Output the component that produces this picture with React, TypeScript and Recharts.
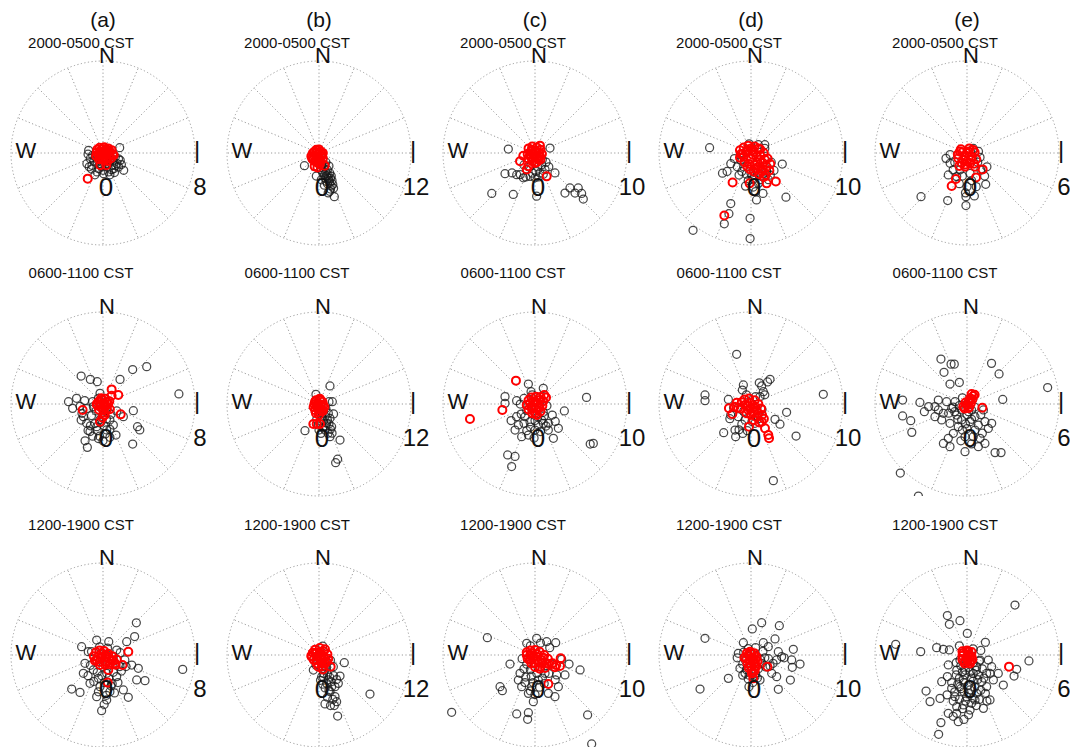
import React from "react";
import { ScatterChart, Scatter, XAxis, YAxis, ReferenceLine, ReferenceDot } from "recharts";

// layout of the 5 x 3 grid of polar panels
const COL_X = [103, 319, 535, 751, 967];
const ROW_Y = [153, 404, 655];
const PLOT_R = 92;

const COLUMN_TAGS = ["(a)", "(b)", "(c)", "(d)", "(e)"];
const PERIODS = ["2000-0500 CST", "0600-1100 CST", "1200-1900 CST"];
const MAX_SPEED = [8, 12, 10, 10, 6];
const SPOKE_DEG = [0, 22.5, 45, 67.5, 90, 112.5, 135, 157.5, 180, 202.5, 225, 247.5, 270, 292.5, 315, 337.5];

// points are [east, north] components
const a1Black = [[-1.25,0.23],[1.45,0.46],[1.8,-1.5],[-1.4,-0.93],[-0.96,-1.07],[-0.52,-1.65],[0.93,-1.36],[1.22,-0.93],[1.5,-0.64],[0.35,-1.22],[-0.23,-0.93],[-0.67,-0.35],[0.64,-0.64],[1.07,-0.35],[0.06,-1.8],[-0.38,-1.36],[0.49,-1.65],[-1.1,-0.49],[1.36,-1.22],[0.78,-1.07],[0.2,-0.78],[-0.9,-0.2],[0.1,-0.4],
  [-1.0,-1.4],[-0.7,-1.9],[0.0,-1.5],[0.6,-1.9],[1.0,-1.7],[1.6,-1.0],[-1.2,-1.2],[-0.5,-0.8],[0.4,-0.95],[1.1,-1.1],[-0.8,-0.7],[0.9,-0.6],[-0.1,-1.2],[1.35,-0.5],[-1.3,-0.1],[0.75,-1.45]];
const a1Red = [[-1.33,-2.23],[0.93,-0.2],[-0.23,-1.07],[0.29,-1.07],[0,0],[0.2,0.2],[0.4,0.1],[-0.2,0.1],[0.1,-0.3],[0.5,-0.3],[-0.3,-0.3],[0.3,-0.5],[0.6,0.1],[-0.1,0.35],[0.2,-0.6],[-0.4,-0.1],
  [-0.5,0.3],[-0.3,0.45],[0.1,0.5],[0.45,0.4],[0.75,0.25],[0.85,-0.1],[0.7,-0.45],[0.4,-0.7],[0,-0.6],[-0.35,-0.55],[-0.6,-0.25],[-0.55,0.05],[0.05,0.1],[0.3,-0.15],[-0.15,-0.15],[0.55,-0.1],[-0.1,-0.45],[0.25,0.35]];

const b1Black = [[-1.9,-1.65],[-0.35,-3.0],[0.3,-2.2],[0.74,-2.8],[1.2,-3.3],[1.4,-3.9],[1.6,-4.3],[1.2,-5.2],[2.0,-5.7],[0.96,-3.7],[0.5,-0.9],[0.74,-1.74],[1.4,-2.6],[1.8,-4.1],[0.3,-3.5],[1.1,-2.2],[1.6,-3.0],[0.9,-1.2],[1.3,-1.7],
  [0.4,-1.4],[0.6,-2.0],[0.9,-2.5],[1.0,-3.0],[1.3,-3.6],[1.5,-3.3],[0.8,-3.3],[1.1,-4.0],[1.5,-4.7],[1.7,-3.6],[0.5,-2.6],[1.2,-2.9],[0.2,-1.9],[1.9,-4.6],[1.4,-5.0],[0.7,-4.2]];
const b1Red = [[-0.57,0.2],[-0.13,-0.2],[0.3,-0.43],[-0.57,-1.74],[0.74,-1.65],[-0.78,-0.87],[0.1,-0.87],[-0.35,0.43],[0.5,0],[-1.0,-0.43],[-0.13,-1.3],
  [-0.8,0.0],[-0.6,-0.4],[-0.3,0.1],[0.2,0.2],[0.4,-0.2],[-0.1,-0.6],[-0.5,-1.1],[0.2,-1.1],[0.5,-0.7],[-0.9,-0.7],[0.0,0.45],[-0.3,-0.9],[0.1,-1.5],[-0.2,-1.9]];

const c1Black = [[-2.9,0.43],[1.63,0.54],[-3.26,-2.25],[-2.5,-2.17],[-1.99,-2.36],[-1.27,-2.7],[-0.54,-2.54],[0,-2.7],[0.18,-4.7],[-2.36,-4.5],[-4.7,-4.4],[3.26,-4.35],[3.8,-3.8],[4.35,-4.35],[4.7,-3.8],[5.07,-4.4],[5.25,-5.0],[2.17,-2.17],[1.09,-1.8],[-0.9,-1.8],[-1.6,-2.35],[0.72,-1.27],[0.54,-2.17],[0.3,-1.5],
  [-0.6,-1.5],[0.1,-2.0],[0.9,-2.3],[-1.0,-2.6],[1.5,-1.5],[0.8,-0.7],[-1.2,-1.3],[0.4,-2.6],[-0.3,-2.2],[1.2,-1.0]];
const c1Red = [[-1.63,-0.9],[-1.27,-0.29],[-0.9,-1.8],[1.27,-2.54],[0.54,0.8],[-0.72,-1.45],[-0.36,0.36],[0.18,0.18],[0.54,-0.36],[-0.18,-0.54],[-0.54,-0.18],[0.36,-0.72],[0,-1.09],
  [-0.7,0.5],[-0.3,0.7],[0.2,0.6],[0.6,0.35],[0.75,-0.1],[0.6,-0.7],[0.2,-1.0],[-0.3,-0.9],[-0.75,-0.6],[-0.8,-0.1],[-0.2,-0.1],[0.2,-0.4],[0.0,0.3],[-0.45,0.15],[0.4,0.0],[-0.4,-0.5]];

const d1Black = [[-4.5,0.58],[-3.1,-2.2],[-2.2,-1.16],[-1.1,-0.8],[-2.2,-5.5],[-2.4,-6.6],[-2.9,-7.7],[-6.3,-8.4],[-0.1,-7.1],[-0.1,-9.3],[0.6,-5.1],[1.3,-4.4],[3.8,-4.8],[3.4,-1.2],[1.5,0.5],[0.25,-3.7],[1.0,-2.9],[0,-2.2],[0.7,-2.2],[-0.8,-1.5],[-1.5,-1.5],[1.7,-1.9],[2.1,-2.4],
  [-0.5,-2.3],[0.3,-2.8],[0.8,-3.3],[-1.0,-2.0],[1.9,-2.9],[-0.3,-3.0],[2.5,-1.9],[-1.8,-0.6],[0.5,-4.2],[-0.6,-3.6],[1.1,-2.5],[0.1,-2.5],[-1.3,-2.4],[2.2,-1.0],[1.5,0.9],[-0.2,1.0],[0.8,0.9],[-2.6,-2.0]];
const d1Red = [[-2.0,-3.2],[-2.9,-6.8],[-0.15,-3.3],[1.7,-3.3],[2.7,-3.1],[-1.1,-0.1],[-0.4,-1.5],[-0.4,0.3],[0.3,0.1],[1.0,-0.25],[0,-0.6],[0.7,-1.0],[1.3,-1.1],[1.7,-1.5],[0.5,-1.7],[1.2,-2.0],[-0.8,-0.4],[1.6,-2.4],[0,0.5],[0.8,0.5],
  [-1.2,0.3],[-0.8,0.6],[-0.3,0.8],[0.4,0.7],[1.0,0.4],[1.4,0],[1.8,-0.6],[2.1,-1.2],[2.0,-1.9],[1.4,-2.6],[0.9,-2.3],[0.3,-2.0],[-0.2,-1.2],[-0.7,-1.0],[-1.2,-0.5],[0.6,-0.4],[0.2,-0.2],[1.0,-0.7],[1.5,-0.7],[0.8,-1.5],[-0.5,0.1],[0.1,0.3],[1.3,-1.8],[-0.1,-1.8],[0.4,-1.3],[-0.9,-0.1]];

const e1Black = [[-1.37,-0.35],[-1.22,-1.43],[-3.0,-2.85],[-1.26,-3.1],[-0.07,-2.85],[-0.07,-3.43],[0.48,-2.8],[1.22,-2.04],[0.85,-0.28],[1.15,-1.5],[0.41,0.3],[-0.46,-1.1],[0.2,-1.33],[0,-2.2],[-0.67,-1.54],[-1.1,-0.67],
  [-0.8,-0.6],[-0.9,-1.1],[0.7,-0.6],[0.9,-1.1],[-0.3,-1.5],[0.3,-1.8],[0.6,-2.2],[-0.5,-2.0],[1.3,-0.9],[-1.1,-0.1],[0.75,0.1],[-0.1,-2.6]];
const e1Red = [[-1.0,-2.15],[-0.72,-1.7],[1.02,-1.07],[0.59,-1.59],[-0.5,-0.85],[0.41,0.2],[-0.46,0.09],[0,0],[0.3,-0.24],[-0.24,-0.46],[0.2,-0.67],[-0.57,-0.35],[-0.13,-0.89],[0.52,-0.89],
  [-0.4,0.25],[0.15,0.3],[0.5,0.05],[0.6,-0.4],[0.45,-0.7],[0.0,-0.55],[-0.35,-0.65],[-0.6,-0.1],[-0.15,-0.2],[0.25,-0.45],[0.1,0.1],[-0.3,0.05],[-0.1,-0.75]];

const a2Black = [[-1.9,2.43],[-1.1,2.14],[-0.5,1.94],[2.58,3.0],[3.8,3.25],[6.6,0.87],[1.48,2.14],[-3.0,0.2],[-2.3,0.5],[-2.64,-0.38],[2.64,-0.58],[1.77,-1.1],[3.0,-1.97],[3.2,-2.26],[2.58,-3.48],[1.13,-2.7],[-1.36,-3.77],[-1.56,-3.2],[-0.4,-3.0],[-1.13,-2.4],[-1.7,-1.1],[-1.42,-1.68],[-0.55,-1.97],[0.32,-2.26],[0.6,-1.39],[-0.26,0.93],[-0.84,-0.23],[-1.83,-0.81],[0,-1.1],[0.9,-1.83],[-0.2,-1.6],[0.2,-0.6],
  [-0.6,-0.6],[-1.0,-1.0],[-0.3,-1.4],[0.3,-1.3],[-0.7,-1.7],[0.1,-1.9],[-1.1,-1.9],[-0.5,-2.3],[0.2,-2.6],[-0.9,-2.8],[0.0,-3.2],[0.6,-2.9],[-1.4,-0.4],[-0.9,0.2],[-0.4,0.5],[-2.0,-0.2],[-1.6,0.3],[0.7,-0.9],[1.2,-0.6],[-0.3,-2.8],[0.6,-2.2],[-1.9,-1.4],[-1.3,-2.3],[-0.1,-0.3]];
const a2Red = [[-1.77,-0.52],[0.75,1.27],[1.33,0.78],[0.75,0.72],[1.54,-0.9],[-0.26,-1.54],[-0.55,0],[-0.12,0.35],[0.32,0.2],[0.17,-0.23],[-0.26,-0.23],[0.6,-0.46],[0.09,-0.75],
  [-0.4,0.2],[-0.15,0.5],[0.2,0.45],[0.45,0.0],[0.35,-0.45],[0.0,-0.5],[-0.35,-0.5],[-0.5,-0.1],[0.05,0.05],[0.25,-0.15],[-0.2,0.0],[0.55,0.25],[0.15,-0.95],[-0.05,-1.2]];

const b2Black = [[1.43,2.35],[-0.4,1.26],[1.74,0.3],[1.43,-1.87],[1.65,-2.96],[-1.83,-3.48],[0.26,-3.83],[1.43,-4.26],[2.74,-4.7],[2.43,-7.2],[2.17,-7.65],[1.0,-2.52],[-0.09,-2.74],[0.78,-3.4],[1.22,-1.22],[0.35,-1.65],[0.6,-0.9],
  [0.4,-1.2],[0.8,-1.6],[1.1,-2.1],[0.6,-2.2],[1.3,-2.6],[0.2,-2.2],[0.9,-2.9],[1.5,-3.3],[0.5,-3.1],[1.2,-3.8],[-0.3,-2.0],[0.9,-0.6],[1.3,0.3],[1.9,-1.3],[1.7,-3.8],[0.0,-3.4]];
const b2Red = [[-0.74,-2.6],[-0.3,-2.6],[0.13,-2.6],[-0.52,0.3],[0.13,0.52],[0.57,-0.13],[-0.3,-0.35],[0.35,-0.78],[-0.09,-0.57],
  [-0.6,0.0],[-0.4,0.5],[0.1,0.7],[0.45,0.3],[0.7,-0.4],[0.5,-0.9],[0.0,-1.0],[-0.5,-0.8],[-0.7,-0.4],[-0.1,0.1],[0.25,-0.3],[-0.3,-0.1],[0.0,-1.4],[-0.4,-1.2]];

const c2Black = [[-0.72,2.17],[-0.43,1.34],[0.9,1.7],[-3.26,0.8],[-3.26,0.07],[-2.0,0.36],[3.19,-0.76],[5.6,0.72],[6.0,-4.35],[6.34,-4.28],[-2.97,-5.54],[-2.17,-5.7],[-2.54,-6.8],[-1.8,-2.28],[-1.45,-3.55],[-0.72,-3.37],[0,-2.83],[1.45,-2.83],[2.0,-3.73],[1.88,-1.2],[1.45,-2.1],[-1.09,-1.38],[-2.0,-1.38],[-0.54,-1.92],[0.72,-1.74],[0.36,-2.28],[-2.17,-2.83],[2.54,-2.64],[-0.3,-1.0],[0.9,-0.9],
  [-0.9,-0.7],[-1.5,-1.1],[-0.5,-2.5],[0.3,-1.4],[1.0,-1.3],[1.2,-2.4],[-1.2,-2.1],[-0.9,-2.9],[0.6,-3.0],[-1.6,0.0],[-1.2,0.6],[1.3,-0.2],[-0.3,1.0],[2.2,-1.9],[-2.6,-1.8],[0.0,-1.8],[0.9,-2.1],[-0.1,-3.7]];
const c2Red = [[-2.07,2.54],[-3.55,-0.65],[-7.07,-1.63],[1.0,0.98],[-0.54,0.07],[0,0.25],[0.54,0.43],[-0.36,-0.47],[0.36,-0.29],[0,-1.0],
  [-0.7,0.4],[-0.4,0.7],[0.1,0.8],[0.6,0.75],[0.9,0.3],[0.8,-0.2],[0.6,-0.8],[0.2,-1.2],[-0.3,-1.0],[-0.7,-0.6],[-0.9,-0.1],[-0.2,0.3],[0.3,0.1],[0.1,-0.5],[-0.4,-0.3],[0.5,-0.4],[1.2,0.7]];

const d2Black = [[-1.56,5.4],[-5.0,0.98],[-5.0,0.36],[-0.83,2.07],[-0.94,1.52],[1.16,1.96],[2.07,2.68],[1.34,1.34],[0.98,0.8],[7.86,1.05],[3.87,-0.9],[3.15,-2.2],[2.61,-1.67],[4.9,-3.48],[2.43,-8.33],[-2.97,-3.12],[-1.74,-2.83],[-1.67,-3.55],[0.43,-2.1],[-0.65,-1.74],[-1.38,-1.38],[-2.46,0.5],
  [-0.8,-0.8],[-1.0,-2.2],[-0.4,-2.9],[0.1,-1.9],[0.8,-1.6],[1.2,-0.6],[0.5,0.8],[-0.5,1.0],[-1.9,-0.4],[-2.2,-1.2],[-1.3,-2.8],[-0.9,-3.2],[0.9,2.3],[1.8,2.4],[1.5,1.0],[-2.3,-1.6]];
const d2Red = [[-2.4,-0.47],[-2.03,-1.09],[-1.56,0.14],[-0.22,-2.46],[0.25,-1.74],[1.16,-1.92],[1.52,-2.64],[1.88,-3.37],[1.96,-3.73],[-0.65,-0.1],[-0.1,0.14],[0.43,-0.29],[-0.29,-0.65],[0.25,-0.83],[0.8,-1.0],
  [-1.0,0.2],[-0.7,0.5],[-0.2,0.6],[0.4,0.4],[0.8,0.0],[1.1,-0.5],[1.2,-1.2],[0.6,-1.4],[0.0,-1.2],[-0.5,-1.0],[-1.1,-0.5],[-0.4,-0.2],[0.3,-0.4],[0.6,-0.7],[-0.1,-0.5],[1.4,-1.6],[-1.4,-0.4],[-1.8,-0.3],[0.9,-2.0]];

const e2Black = [[-1.7,2.93],[-1.04,2.6],[-0.83,2.6],[-1.5,2.07],[-1.11,1.3],[-0.5,1.41],[1.6,2.65],[2.09,1.96],[5.26,1.07],[2.33,0.3],[-4.2,0.26],[-4.2,-0.78],[-3.67,-1.09],[-3.6,-1.85],[-3.07,0.1],[-2.78,-0.5],[-2.5,-0.17],[-4.35,-4.5],[-3.17,-6.0],[-2.09,-0.17],[-1.87,-0.39],[-1.54,-0.61],[-1.33,0.15],[-1.0,-0.28],[-0.67,-0.72],[-0.35,-1.04],[0.2,-1.15],[0.52,-0.83],[0.74,-1.37],[1.17,-1.15],[1.39,-1.59],[1.61,-1.26],[-0.57,-1.48],[-0.89,-1.91],[-1.22,-2.24],[-1.54,-2.57],[-1.11,-2.78],[-0.13,-3.11],[0.74,-2.78],[1.17,-2.57],[1.83,-3.17],[2.22,-3.17],[-0.13,-2.13],[0.41,-2.13],[-0.35,-0.39],[-0.78,0.15],[1.07,-0.39],[-1.65,-1.04],[-2.09,-0.83],[-1.11,-1.26],[-1.87,0.26],[0.52,-1.7],[0.85,-2.24],[0,-0.7],[-0.3,-1.7],[0.3,-0.4],
  [-0.5,-0.1],[0.1,-0.5],[-0.1,-1.3],[0.5,-0.2],[0.9,-0.7],[-0.8,-0.5],[-0.6,-1.0],[0.3,-1.0],[0.0,-1.6],[-0.4,-2.4],[0.3,-2.6],[1.0,-1.9],[-0.9,-0.2],[-1.2,-0.6],[0.2,0.3],[-0.3,0.4]];
const e2Red = [[0.41,0.52],[0.2,0.37],[0,-0.07],[-0.24,-0.17],[1.0,-0.24],[0.09,-0.28],
  [0.1,0.15],[0.25,0.05],[-0.1,0.1],[0.35,0.3],[0.15,-0.2],[-0.15,-0.3],[0.5,0.6],[0.3,0.65]];

const a3Black = [[2.9,2.8],[2.75,1.6],[2.06,1.16],[0.5,1.16],[-0.55,1.3],[-1.86,0.72],[-1.28,0.29],[6.93,-1.25],[3.65,-2.23],[2.93,-2.17],[2.2,-3.68],[-0.12,-4.84],[-2.72,-2.96],[-2.0,-3.25],[-1.71,-1.59],[-1.13,-2.46],[-1.57,-0.72],[1.77,-3.04],[1.19,-1.88],[0.6,-3.19],[0.32,-3.91],[-0.55,-3.62],[-0.26,-2.75],[1.48,-1.0],[2.5,-0.87],[3.07,-1.16],[-0.84,-1.3],[0.9,-0.14],[1.9,-0.43],[0.32,-1.59],[-0.4,-2.03],[1.19,0.43],[0.8,-2.5],[0,-1.0],
  [-0.5,-1.5],[-0.1,-1.8],[0.5,-2.0],[0.9,-1.5],[-0.8,-2.3],[0.1,-2.4],[0.7,-2.7],[-0.4,-3.2],[0.3,-3.5],[1.3,-2.4],[1.6,-1.4],[-1.1,-0.9],[-1.0,0.3],[-0.3,0.7],[0.4,0.6],[1.5,0.2],[2.0,-1.0],[1.0,-3.3],[-1.3,-1.8],[0.1,-4.3]];
const a3Red = [[2.2,0.29],[1.7,-0.87],[0.46,-1.3],[0.41,-2.4],[-0.55,-0.43],[-0.12,0.14],[0.32,-0.14],[0.75,-0.43],[-0.26,-0.87],[0.17,-0.58],[1.04,-0.72],
  [-0.8,-0.1],[-0.6,0.25],[-0.3,0.4],[0.1,0.35],[0.45,0.1],[0.8,-0.1],[1.2,-0.4],[1.1,-0.85],[0.6,-0.8],[0.2,-0.85],[-0.3,-0.6],[-0.7,-0.5],[-0.1,-0.2],[0.5,-0.35],[0.2,0.0],[-0.45,-0.2],[0.9,-0.5]];

const b3Black = [[0.48,1.17],[3.3,-1.0],[2.74,-2.74],[6.65,-5.09],[0.78,-6.39],[2.43,-7.96],[2.3,-6.09],[2.09,-5.43],[1.65,-4.13],[1.22,-3.26],[0.35,-2.83],[0.78,-1.96],[1.87,-1.52],[-0.74,-1.96],[1.43,-4.78],[1.0,-3.7],[2.09,-4.13],[2.52,-3.7],[0.6,-2.4],[1.4,-2.9],
  [0.4,-1.5],[1.0,-1.6],[0.6,-2.9],[1.1,-2.5],[0.2,-3.3],[0.8,-4.3],[1.3,-4.6],[1.8,-5.8],[2.0,-6.6],[1.6,-3.5],[0.5,-3.8],[1.9,-2.7],[2.3,-3.2],[-0.4,-1.3],[1.1,-5.5],[1.5,-6.6],[0.9,-0.8],[1.5,-0.7]];
const b3Red = [[-0.96,-0.22],[0.78,0.74],[1.52,-1.52],[-0.52,0.22],[0.13,0.43],[0.57,-0.22],[-0.3,-0.65],[0.35,-1.09],[-0.09,-1.52],[1.0,-0.87],
  [-0.8,0.3],[-0.5,0.7],[0.1,0.9],[0.6,0.5],[1.1,0.1],[1.2,-0.5],[0.8,-1.1],[0.4,-1.5],[-0.3,-1.1],[-0.7,-0.6],[-1.0,-0.1],[-0.2,-0.2],[0.3,0.0],[0.2,-0.7],[-0.4,0.2],[0.7,-0.4],[0.5,-1.9]];

const c3Black = [[-5.18,1.88],[-2.72,-0.98],[-3.8,-3.44],[-3.55,-3.88],[-9.06,-6.23],[-1.99,-6.41],[-0.72,-6.27],[-0.8,-6.99],[5.72,-6.52],[6.16,-9.67],[4.9,-1.63],[3.7,-0.98],[2.9,-0.47],[3.26,-2.17],[2.36,-2.17],[2.17,-4.53],[1.45,-4.17],[-0.18,-5.07],[-0.72,-4.17],[-1.45,-3.44],[-1.81,-2.72],[-1.63,-1.99],[-0.9,1.27],[0.18,1.81],[1.27,1.45],[2.25,1.34],[1.09,-1.99],[0.36,-2.72],[-0.36,-3.44],[2.54,-3.44],[-0.5,-1.6],[0.6,-1.5],
  [-0.9,-1.0],[-1.2,-1.5],[-0.4,-2.3],[0.2,-2.0],[0.8,-2.5],[1.5,-2.0],[1.8,-1.0],[-0.2,-3.0],[0.5,-3.5],[1.0,-3.1],[-1.0,-2.4],[-0.5,-3.9],[-1.4,-0.4],[-0.5,1.0],[0.6,1.3],[1.6,0.8],[2.2,-2.7],[0.0,-4.3],[-1.1,-3.0]];
const c3Red = [[2.79,-0.36],[2.72,-1.2],[1.45,-3.15],[2.17,-1.34],[-0.9,0],[-0.36,0.18],[0.18,-0.18],[0.72,-0.54],[1.27,-0.9],[-0.54,-0.54],[0,-0.9],[0.54,-1.27],
  [-0.9,0.3],[-0.5,0.5],[0.0,0.55],[0.5,0.35],[1.0,0.0],[1.4,-0.4],[1.5,-1.0],[1.1,-1.4],[0.5,-1.5],[0.0,-1.3],[-0.4,-0.9],[-0.8,-0.4],[-0.2,-0.3],[0.3,-0.6],[0.8,-0.9],[0.9,-0.3],[0.2,0.1],[-0.5,0.0],[1.9,-0.9],[2.3,-1.1]];

const d3Black = [[1.16,3.51],[0.14,2.83],[3.08,3.19],[2.61,1.74],[-5.0,1.81],[-5.54,-3.7],[-2.46,-2.54],[-0.83,1.34],[1.34,1.34],[1.88,0.9],[2.97,0.36],[4.6,0.62],[4.42,-0.54],[5.33,-0.98],[4.49,-1.34],[4.28,-2.72],[2.97,-3.73],[2.79,-2.36],[2.07,-1.2],[-1.38,0.18],[-1.2,-1.45],[0.98,-2.72],[-0.22,-3.44],[0.43,-2.36],[-0.65,-1.99],[2.79,-0.54],[3.33,-0.18],[1.16,-0.9],[2.25,-1.99],[-0.3,-2.6],
  [-0.6,-0.6],[-0.9,-1.0],[-0.5,-1.6],[0.5,-2.0],[0.8,-1.5],[1.0,-0.5],[1.5,-0.3],[1.6,-1.3],[-0.2,-2.2],[0.2,-3.0],[0.7,-2.5],[-0.9,-2.2],[-0.3,0.7],[0.5,0.8],[1.9,-0.4],[2.4,-0.9],[3.6,-0.3],[1.3,0.4],[-1.5,-0.3],[-0.8,0.3]];
const d3Red = [[-0.72,-0.29],[1.78,-1.27],[0.25,-2.54],[-0.29,0],[0.07,0.18],[0.25,-0.54],[-0.1,-0.9],[0.43,-1.27],[0.07,-1.63],
  [-0.45,0.2],[-0.1,0.35],[0.35,0.2],[0.6,-0.2],[0.7,-0.7],[0.6,-1.2],[0.4,-1.7],[0.1,-2.0],[-0.25,-1.4],[-0.4,-0.9],[-0.5,-0.4],[0.1,-0.3],[0.35,-0.9],[-0.05,-1.2],[0.25,-1.9],[0.5,-0.45]];

const e3Black = [[-4.65,0.7],[-3.02,0.22],[-1.98,0.48],[-1.54,0.37],[-1.15,0.33],[-1.28,2.57],[-1.15,2.0],[-0.46,2.24],[0.02,1.41],[1.2,0.83],[3.13,3.26],[4.04,-0.39],[3.24,-0.93],[3.07,-1.37],[2.37,-1.96],[2.04,-1.2],[-2.67,-2.35],[-2.41,-3.04],[-1.76,-2.83],[-1.65,-1.74],[-1.28,-1.41],[-1.7,-4.41],[-1.85,-5.17],[-1.22,-3.8],[-0.67,-3.8],[-0.57,-4.35],[0.2,-3.59],[1.07,-3.48],[0.52,-2.93],[1.28,-2.07],[1.72,-1.63],[1.61,-0.76],[0.85,-0.33],[-0.67,-0.98],[-0.46,-2.07],[-0.02,-2.72],[-0.24,-1.63],[0.41,-1.2],[0.96,-1.74],[-0.78,-2.72],[-0.24,-3.26],[-1.0,-2.17],[0.63,-0.76],[0.2,-2.28],[-0.46,-0.33],[-0.67,-3.37],[1.28,-1.2],[0.3,-3.15],[0.63,-2.5],[-0.13,-1.3],[0.09,-1.96],[-0.5,-1.52],[0.74,-1.3],[1.5,-2.93],[-1.22,-0.65],[1.39,-0.33],[0.1,-0.8],[-0.2,-2.4],[0.4,-1.7],[-0.1,-1.0],
  [-0.4,-0.7],[0.0,-0.5],[0.4,-0.5],[-0.7,-1.3],[-0.3,-1.1],[0.2,-1.1],[0.6,-1.0],[1.0,-0.9],[-0.6,-1.9],[-0.2,-1.8],[0.3,-1.5],[0.7,-1.6],[1.1,-1.5],[-0.8,-2.4],[-0.4,-2.2],[0.1,-2.5],[0.5,-2.1],[0.9,-2.3],[-0.5,-2.9],[-0.1,-3.0],[0.4,-2.8],[0.8,-2.9],[-0.3,-3.5],[0.1,-3.9],[-0.9,-3.0],[1.2,-2.5],[0.6,-3.3],[-0.7,-0.5],[0.8,-0.4],[1.5,-1.2],[-1.0,-1.8],[-1.3,-2.6],[1.3,-3.0],[-0.2,-4.2],[-0.9,-4.0],[0.4,0.4],[-0.5,0.6],[0.9,0.3]];
const e3Red = [[2.74,-0.76],[-0.24,0.11],[0.09,0.22],[-0.02,-0.22],[0.3,-0.11],[-0.13,-0.43],[0.2,-0.43],
  [-0.3,0.25],[0.0,0.3],[0.3,0.2],[0.35,-0.3],[0.2,-0.55],[-0.15,-0.55],[-0.3,-0.3],[-0.3,-0.05],[0.1,0.0],[0.05,-0.35],[0.2,-0.1]];

const BLACK_POINTS = [
  [a1Black, b1Black, c1Black, d1Black, e1Black],
  [a2Black, b2Black, c2Black, d2Black, e2Black],
  [a3Black, b3Black, c3Black, d3Black, e3Black],
];
const RED_POINTS = [
  [a1Red, b1Red, c1Red, d1Red, e1Red],
  [a2Red, b2Red, c2Red, d2Red, e2Red],
  [a3Red, b3Red, c3Red, d3Red, e3Red],
];

const toRows = (pts: number[][]) => pts.map(([x, y]) => ({ x, y }));

const GRID = "#9a9a9a";
const DOTS = "1.2 2.4";

const blackDot = (p: any) => (
  <circle cx={p.cx} cy={p.cy} r={4} fill="none" stroke="#1a1a1a" strokeOpacity={0.8} strokeWidth={1.25} />
);
const redDot = (p: any) => (
  <circle cx={p.cx} cy={p.cy} r={4} fill="none" stroke="#ff0000" strokeWidth={2} />
);

function Panel({ row, col }: { row: number; col: number }) {
  const R = MAX_SPEED[col];
  const cx = COL_X[col];
  const cy = ROW_Y[row];
  const size = PLOT_R * 2 + 16;
  return (
    <div style={{ position: "absolute", left: cx - size / 2, top: cy - size / 2 }}>
      <ScatterChart width={size} height={size} margin={{ top: 8, right: 8, bottom: 8, left: 8 }}>
        <XAxis type="number" dataKey="x" domain={[-R, R]} hide allowDataOverflow />
        <YAxis type="number" dataKey="y" domain={[-R, R]} hide allowDataOverflow />
        <ReferenceDot x={0} y={0} r={PLOT_R} fill="none" stroke={GRID} strokeDasharray={DOTS} ifOverflow="visible" />
        {SPOKE_DEG.map((d) => {
          const t = (d * Math.PI) / 180;
          return (
            <ReferenceLine
              key={d}
              segment={[{ x: 0, y: 0 }, { x: R * Math.sin(t), y: R * Math.cos(t) }]}
              stroke={GRID}
              strokeDasharray={DOTS}
              ifOverflow="visible"
            />
          );
        })}
        <Scatter data={toRows(BLACK_POINTS[row][col])} shape={blackDot} isAnimationActive={false} />
        <Scatter data={toRows(RED_POINTS[row][col])} shape={redDot} isAnimationActive={false} />
      </ScatterChart>
    </div>
  );
}

const PERIOD_OFFSET = [-105, -126, -125];

export default function App() {
  return (
    <div
      style={{
        position: "absolute",
        left: 0,
        top: 0,
        width: 1070,
        height: 747,
        background: "#fff",
        fontFamily: '"Liberation Sans", Arial, Helvetica, sans-serif',
      }}
    >
      {ROW_Y.map((_, r) => COL_X.map((_, c) => <Panel key={`${r}-${c}`} row={r} col={c} />))}
      <svg width={1070} height={747} style={{ position: "absolute", left: 0, top: 0, pointerEvents: "none" }}>
        {COLUMN_TAGS.map((t, c) => (
          <text key={t} x={COL_X[c]} y={27} fontSize={21} textAnchor="middle" fill="#111">
            {t}
          </text>
        ))}
        {ROW_Y.map((cy, r) =>
          COL_X.map((cx, c) => (
            <g key={`${r}-${c}`} fill="#111">
              <text x={cx - 22} y={cy + PERIOD_OFFSET[r]} fontSize={15} textAnchor="middle">
                {PERIODS[r]}
              </text>
              <text x={cx + 4} y={cy - 90} fontSize={22} textAnchor="middle">N</text>
              <text x={cx - 77} y={cy + 5} fontSize={22} textAnchor="middle">W</text>
              <text x={cx + 94} y={cy + 5} fontSize={24} textAnchor="middle">|</text>
              <text x={cx + 3} y={cy + 43} fontSize={26} textAnchor="middle">0</text>
              <text x={cx + 97} y={cy + 42} fontSize={24} textAnchor="middle">{MAX_SPEED[c]}</text>
            </g>
          ))
        )}
      </svg>
    </div>
  );
}
